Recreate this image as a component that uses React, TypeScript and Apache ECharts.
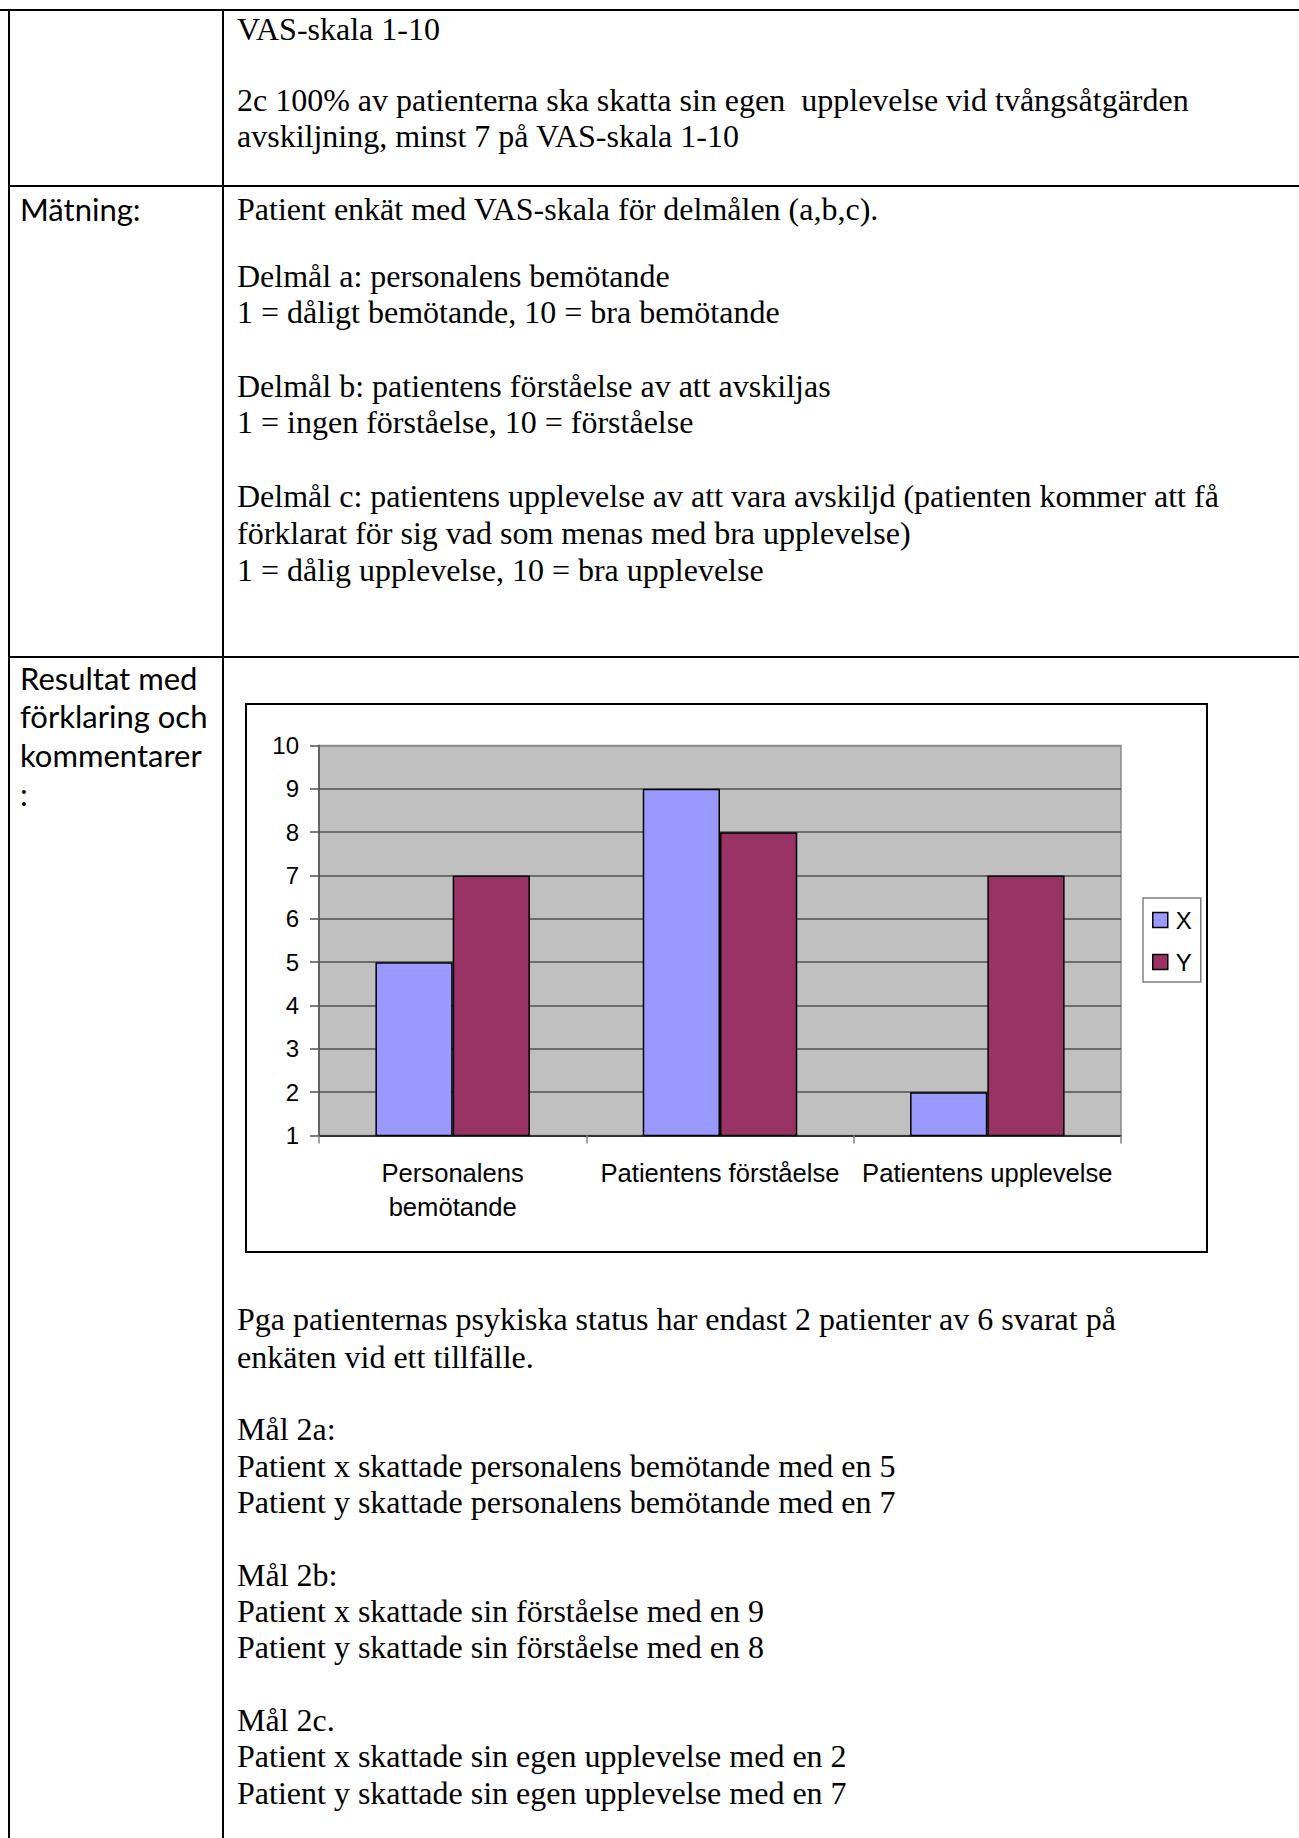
import React, { useEffect, useRef } from 'react';
import * as echarts from 'echarts';

// ---- chart data ----
const categories = ['Personalens bemötande', 'Patientens förståelse', 'Patientens upplevelse'];
const seriesNames = ['X', 'Y'];
const valuesX = [5, 9, 2];
const valuesY = [7, 8, 7];
const yMin = 1;
const yMax = 10;
const yStep = 1;

// ---- document text ----
const goalText = [
  'VAS-skala 1-10',
  '2c 100% av patienterna ska skatta sin egen  upplevelse vid tvångsåtgärden',
  'avskiljning, minst 7 på VAS-skala 1-10',
];
const measureLabel = ['Mätning:'];
const measureText = [
  'Patient enkät med VAS-skala för delmålen (a,b,c).',
  'Delmål a: personalens bemötande',
  '1 = dåligt bemötande, 10 = bra bemötande',
  'Delmål b: patientens förståelse av att avskiljas',
  '1 = ingen förståelse, 10 = förståelse',
  'Delmål c: patientens upplevelse av att vara avskiljd (patienten kommer att få',
  'förklarat för sig vad som menas med bra upplevelse)',
  '1 = dålig upplevelse, 10 = bra upplevelse',
];
const resultLabel = ['Resultat med', 'förklaring och', 'kommentarer', ':'];
const resultText = [
  'Pga patienternas psykiska status har endast 2 patienter av 6 svarat på',
  'enkäten vid ett tillfälle.',
  'Mål 2a:',
  'Patient x skattade personalens bemötande med en 5',
  'Patient y skattade personalens bemötande med en 7',
  'Mål 2b:',
  'Patient x skattade sin förståelse med en 9',
  'Patient y skattade sin förståelse med en 8',
  'Mål 2c.',
  'Patient x skattade sin egen upplevelse med en 2',
  'Patient y skattade sin egen upplevelse med en 7',
];

// ---- layout (positions only) ----
const goalY = [29, 99.7, 136];
const measureLabelY = [208.7];
const measureY = [208.7, 275.5, 311.9, 385.7, 422, 496, 533.4, 569.8];
const resultLabelY = [677.6, 716.3, 755, 793.7];
const resultY = [1319, 1356.5, 1429, 1465.5, 1502, 1574.5, 1611, 1647, 1720, 1756, 1792.6];

const LEFT_X = 20;
const RIGHT_X = 237;
const SERIF = '32px "Liberation Serif", "Times New Roman", serif';
const SANS_LABEL = '31px Lato, "Noto Sans", sans-serif';
const CHART_FONT = '"Liberation Sans", Arial, sans-serif';
const CAT_FONT_SIZE = 25.6;
const CAT_MAX_W = 262;

let measureCtx: CanvasRenderingContext2D | null = null;
function textWidth(s: string, font: string) {
  if (!measureCtx) measureCtx = document.createElement('canvas').getContext('2d');
  if (!measureCtx) return s.length * 12;
  measureCtx.font = font;
  return measureCtx.measureText(s).width;
}
function wrapLabel(s: string) {
  const font = `${CAT_FONT_SIZE}px ${CHART_FONT}`;
  const words = s.split(' ');
  const lines: string[] = [];
  let cur = '';
  for (const w of words) {
    const trial = cur ? cur + ' ' + w : w;
    if (cur && textWidth(trial, font) > CAT_MAX_W) {
      lines.push(cur);
      cur = w;
    } else {
      cur = trial;
    }
  }
  if (cur) lines.push(cur);
  return lines.join('\n');
}

function textEls(lines: string[], ys: number[], x: number, font: string) {
  return lines.map((t, i) => ({
    type: 'text',
    x,
    y: ys[i],
    silent: true,
    style: { text: t, font, fill: '#000', verticalAlign: 'middle', textVerticalAlign: 'middle' },
  }));
}

function lineEl(x1: number, y1: number, x2: number, y2: number, w = 2) {
  return {
    type: 'line',
    silent: true,
    shape: { x1, y1, x2, y2 },
    style: { stroke: '#000', lineWidth: w },
  };
}

export default function App() {
  const ref = useRef<HTMLDivElement>(null);

  useEffect(() => {
    if (!ref.current) return;
    const chart = echarts.init(ref.current, undefined, { renderer: 'svg' });

    const gridColors: string[] = [];
    for (let v = yMin; v <= yMax; v += yStep) gridColors.push(v === yMax ? '#8a8a8a' : '#505050');

    const graphic: any[] = [
      // table rules
      lineEl(0, 10, 1299, 10),
      lineEl(9, 9, 9, 1838),
      lineEl(223, 9, 223, 1838),
      lineEl(8, 186, 1299, 186),
      lineEl(8, 657, 1299, 657),
      // chart frame
      {
        type: 'rect',
        silent: true,
        shape: { x: 246, y: 704, width: 961, height: 548 },
        style: { fill: 'none', stroke: '#000', lineWidth: 2 },
      },
      ...textEls(goalText, goalY, RIGHT_X, SERIF),
      ...textEls(measureLabel, measureLabelY, LEFT_X, SANS_LABEL),
      ...textEls(measureText, measureY, RIGHT_X, SERIF),
      ...textEls(resultLabel, resultLabelY, LEFT_X, SANS_LABEL),
      ...textEls(resultText, resultY, RIGHT_X, SERIF),
    ];

    const option: any = {
      animation: false,
      backgroundColor: '#ffffff',
      grid: {
        left: 319,
        top: 745.5,
        width: 802,
        height: 390,
        show: true,
        backgroundColor: '#c0c0c0',
        borderColor: '#8a8a8a',
        borderWidth: 1.5,
        containLabel: false,
      },
      xAxis: {
        type: 'category',
        data: categories,
        axisLine: { onZero: false, lineStyle: { color: '#333333', width: 2 } },
        axisTick: { show: true, length: 8, lineStyle: { color: '#808080', width: 1.5 } },
        axisLabel: {
          interval: 0,
          margin: 21,
          fontSize: CAT_FONT_SIZE,
          fontFamily: CHART_FONT,
          color: '#000',
          lineHeight: 33.4,
          align: 'center',
          formatter: (v: string) => wrapLabel(v),
        },
        splitLine: { show: false },
      },
      yAxis: {
        type: 'value',
        min: yMin,
        max: yMax,
        interval: yStep,
        axisLine: { show: true, lineStyle: { color: '#505050', width: 1.5 } },
        axisTick: { show: true, length: 9, lineStyle: { color: '#505050', width: 1.5 } },
        axisLabel: { margin: 20, fontSize: 24, fontFamily: CHART_FONT, color: '#000' },
        splitLine: { show: true, lineStyle: { color: gridColors, width: 1.5 } },
      },
      legend: {
        data: seriesNames,
        orient: 'vertical',
        left: 1143,
        top: 898,
        padding: [10, 9, 8, 9],
        itemGap: 18,
        itemWidth: 15,
        itemHeight: 15,
        icon: 'rect',
        borderColor: '#808080',
        borderWidth: 1.5,
        backgroundColor: '#ffffff',
        textStyle: { fontSize: 24, fontFamily: CHART_FONT, color: '#000', padding: [0, 0, 0, 3] },
        itemStyle: { borderColor: '#000', borderWidth: 1.5 },
      },
      series: [
        {
          name: seriesNames[0],
          type: 'bar',
          data: valuesX,
          barGap: '0%',
          barCategoryGap: '42.2%',
          clip: true,
          itemStyle: { color: '#9999ff', borderColor: '#000', borderWidth: 1.5 },
        },
        {
          name: seriesNames[1],
          type: 'bar',
          data: valuesY,
          barGap: '0%',
          barCategoryGap: '42.2%',
          clip: true,
          itemStyle: { color: '#993366', borderColor: '#000', borderWidth: 1.5 },
        },
      ],
      graphic,
    };

    chart.setOption(option);
    return () => chart.dispose();
  }, []);

  return (
    <div
      ref={ref}
      style={{ position: 'absolute', left: 0, top: 0, width: 1299, height: 1838, background: '#fff' }}
    />
  );
}
